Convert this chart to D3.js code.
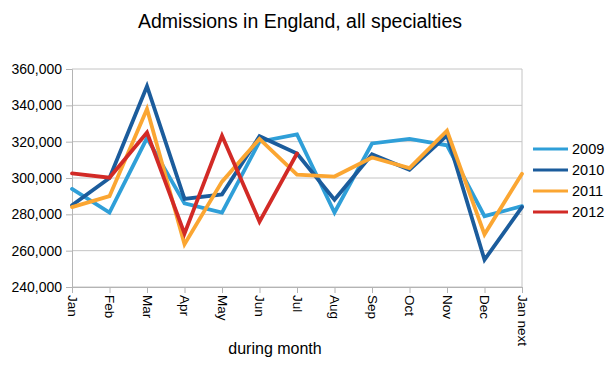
<!DOCTYPE html>
<html>
<head>
<meta charset="utf-8">
<script src="https://cdn.jsdelivr.net/npm/d3@7"></script>
<style>
  body { margin: 0; background: #fff; }
  text { font-family: "Liberation Sans", Arial, sans-serif; fill: #000; }
</style>
</head>
<body>
<div id="chart"></div>
<script>
// month labels along the bottom
var months = ["Jan","Feb","Mar","Apr","May","Jun","Jul","Aug","Sep","Oct","Nov","Dec","Jan next"];
var years = ["2009","2010","2011","2012"];
var yTicks = [240000, 260000, 280000, 300000, 320000, 340000, 360000];

// admissions per month
var v2009 = [294000, 281000, 322000, 286000, 281000, 320000, 324000, 281000, 319000, 321500, 318000, 279000, 284500];
var v2010 = [285000, 300000, 350500, 288500, 291000, 323000, 313500, 288000, 313000, 304500, 323500, 255000, 284000];
var v2011 = [284000, 290000, 338000, 263500, 298000, 321500, 301800, 300800, 311300, 305500, 326000, 269000, 302300];
var v2012 = [302500, 300200, 325000, 269400, 323200, 276000, 313500];

var seriesValues = [v2009, v2010, v2011, v2012];
var colors = ["#2f9fd8", "#1b5c9c", "#fba632", "#d22a26"];

var W = 612, H = 371;
var margin = {top: 69, right: 90, bottom: 84, left: 72},
    width = W - margin.left - margin.right,
    height = H - margin.top - margin.bottom;

var svg = d3.select("#chart").append("svg")
    .attr("width", W)
    .attr("height", H);

svg.append("text")
    .attr("x", 300)
    .attr("y", 28)
    .attr("text-anchor", "middle")
    .style("font-size", "19.5px")
    .text("Admissions in England, all specialties");

var g = svg.append("g")
    .attr("transform", "translate(" + margin.left + "," + margin.top + ")");

var x = d3.scalePoint().domain(months).range([0, width]);
var y = d3.scaleLinear().domain([240000, 360000]).range([height, 0]);

// gridlines
g.selectAll(".grid")
    .data(yTicks)
  .enter().append("line")
    .attr("x1", 0).attr("x2", width)
    .attr("y1", function(d) { return y(d); })
    .attr("y2", function(d) { return y(d); })
    .attr("stroke", "#c4c4c4")
    .attr("stroke-width", 1);

// right border
g.append("line")
    .attr("x1", width).attr("x2", width)
    .attr("y1", 0).attr("y2", height)
    .attr("stroke", "#c4c4c4");

var fmt = d3.format(",");

var yAxis = g.append("g")
    .call(d3.axisLeft(y).tickValues(yTicks).tickFormat(fmt).tickSize(6).tickPadding(4));
yAxis.select(".domain").attr("stroke", "#b4b4b4");
yAxis.selectAll(".tick line").attr("stroke", "#b4b4b4");
yAxis.selectAll("text").style("font-size", "14px").attr("fill", "#000");

var xAxis = g.append("g")
    .attr("transform", "translate(0," + height + ")")
    .call(d3.axisBottom(x).tickSize(6).tickSizeOuter(0));
xAxis.select(".domain").attr("stroke", "#b4b4b4");
xAxis.selectAll(".tick line").attr("stroke", "#b4b4b4");
xAxis.selectAll("text")
    .style("font-size", "13.5px")
    .attr("fill", "#000")
    .attr("text-anchor", "start")
    .attr("dy", "0.35em")
    .attr("x", 0)
    .attr("y", 0)
    .attr("transform", "translate(0,8) rotate(90)");

svg.append("text")
    .attr("x", 275)
    .attr("y", 354)
    .attr("text-anchor", "middle")
    .style("font-size", "16px")
    .text("during month");

var line = d3.line()
    .x(function(d, i) { return x(months[i]); })
    .y(function(d) { return y(d); });

g.selectAll(".series")
    .data(seriesValues)
  .enter().append("path")
    .attr("class", "series")
    .attr("d", line)
    .attr("fill", "none")
    .attr("stroke", function(d, i) { return colors[i]; })
    .attr("stroke-width", 3.8)
    .attr("stroke-linejoin", "miter")
    .attr("stroke-linecap", "round");

// legend
var legend = svg.selectAll(".legend")
    .data(years)
  .enter().append("g")
    .attr("class", "legend")
    .attr("transform", function(d, i) { return "translate(533," + (149 + i * 21) + ")"; });

legend.append("line")
    .attr("x1", 0).attr("x2", 35)
    .attr("stroke", function(d, i) { return colors[i]; })
    .attr("stroke-width", 3);

legend.append("text")
    .attr("x", 39)
    .attr("dy", "0.35em")
    .style("font-size", "14.5px")
    .text(function(d) { return d; });
</script>
</body>
</html>
